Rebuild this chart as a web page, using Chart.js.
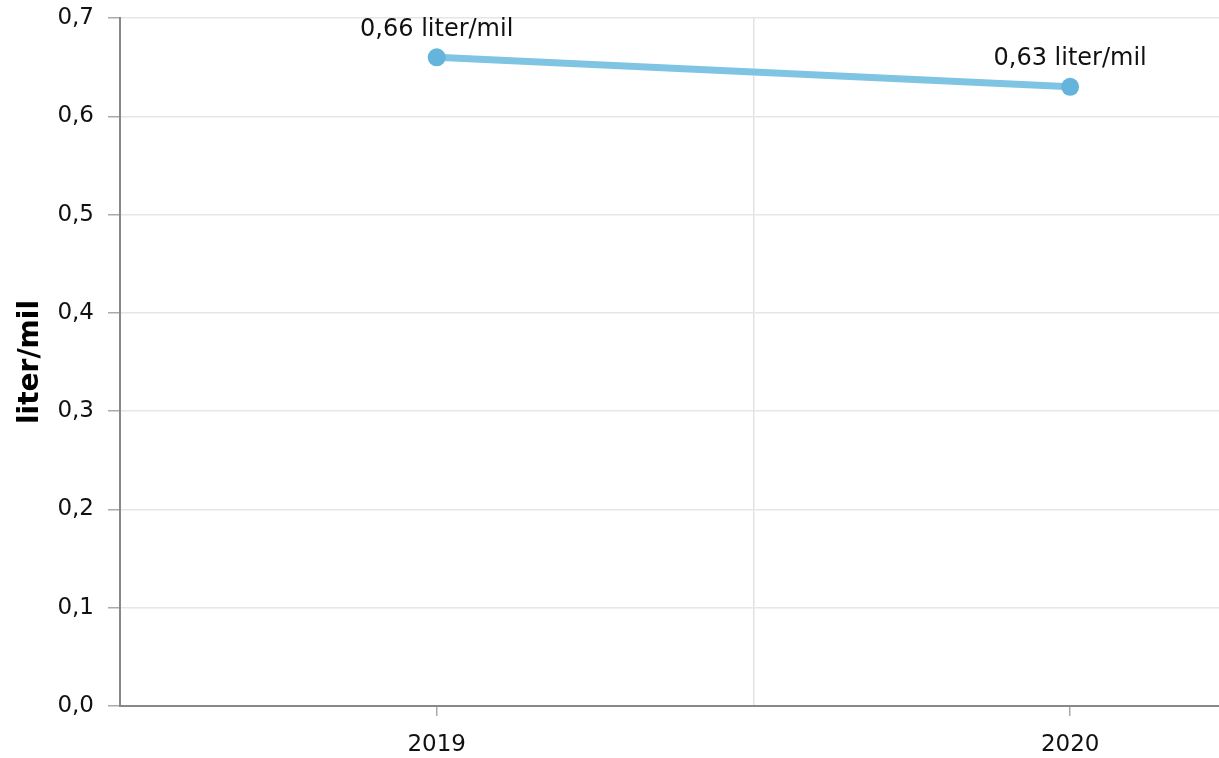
<!DOCTYPE html>
<html>
<head>
<meta charset="utf-8">
<script src="https://cdn.jsdelivr.net/npm/chart.js@4"></script>
<style>
  html, body { margin: 0; padding: 0; background: #fff; overflow: hidden; }
  #wrap { width: 1219px; height: 758px; }
</style>
</head>
<body>
<div id="wrap"><canvas id="chart" width="1219" height="758"></canvas></div>
<script>
const years = [2019, 2020];
const values = [0.66, 0.63];
const yTicks = [0, 0.1, 0.2, 0.3, 0.4, 0.5, 0.6, 0.7];
const unit = 'liter/mil';

const fmt = v => v.toFixed(1).replace('.', ',');

// value labels above the points
const pointLabels = {
  id: 'pointLabels',
  afterDatasetsDraw(chart) {
    const ctx = chart.ctx;
    const meta = chart.getDatasetMeta(0);
    ctx.save();
    ctx.font = '24px "DejaVu Sans"';
    ctx.fillStyle = '#111';
    ctx.textAlign = 'center';
    ctx.textBaseline = 'middle';
    meta.data.forEach((pt, i) => {
      ctx.fillText(values[i].toFixed(2).replace('.', ',') + ' ' + unit, pt.x, pt.y - 28);
    });
    ctx.restore();
  }
};

new Chart(document.getElementById('chart').getContext('2d'), {
  type: 'line',
  data: {
    datasets: [{
      data: years.map((y, i) => ({ x: y, y: values[i] })),
      borderColor: '#80c4e4',
      backgroundColor: '#64b4dc',
      pointBackgroundColor: '#64b4dc',
      pointBorderWidth: 0,
      pointRadius: 9,
      borderWidth: 7,
      clip: false
    }]
  },
  options: {
    responsive: false,
    animation: false,
    layout: { autoPadding: false, padding: { top: 18, right: 0, left: 14, bottom: 0 } },
    plugins: { legend: { display: false }, tooltip: { enabled: false } },
    scales: {
      x: {
        type: 'linear',
        min: 2018.5,
        max: 2020.235,
        afterBuildTicks: s => { s.ticks = [{ value: 2019 }, { value: 2019.5 }, { value: 2020 }]; },
        afterFit: s => { s.height = 52; s.paddingLeft = 0; s.paddingRight = 0; },
        border: { color: '#888', width: 2 },
        grid: {
          color: c => c.tick && c.tick.value === 2019.5 ? '#e2e2e2' : 'rgba(0,0,0,0)',
          tickColor: c => c.tick && c.tick.value === 2019.5 ? 'rgba(0,0,0,0)' : '#aaa',
          tickLength: 10,
          lineWidth: 1.5
        },
        ticks: {
          autoSkip: false,
          maxRotation: 0,
          padding: 15,
          color: '#111',
          font: { family: 'DejaVu Sans', size: 23 },
          callback: v => v === 2019.5 ? '' : String(v)
        }
      },
      y: {
        min: 0,
        max: 0.7,
        afterBuildTicks: s => { s.ticks = yTicks.map(v => ({ value: v })); },
        afterFit: s => { s.width = 106; s.paddingTop = 0; s.paddingBottom = 0; },
        border: { color: '#888', width: 2 },
        grid: { color: '#e6e6e6', tickColor: '#aaa', tickLength: 12, lineWidth: 1.5 },
        ticks: {
          padding: 14,
          color: '#111',
          font: { family: 'DejaVu Sans', size: 23 },
          callback: v => fmt(v)
        },
        title: {
          display: true,
          text: unit,
          color: '#000',
          font: { family: 'DejaVu Sans', size: 28, weight: 'bold' },
          padding: { top: 0, bottom: 8 }
        }
      }
    }
  },
  plugins: [pointLabels]
});
</script>
</body>
</html>
